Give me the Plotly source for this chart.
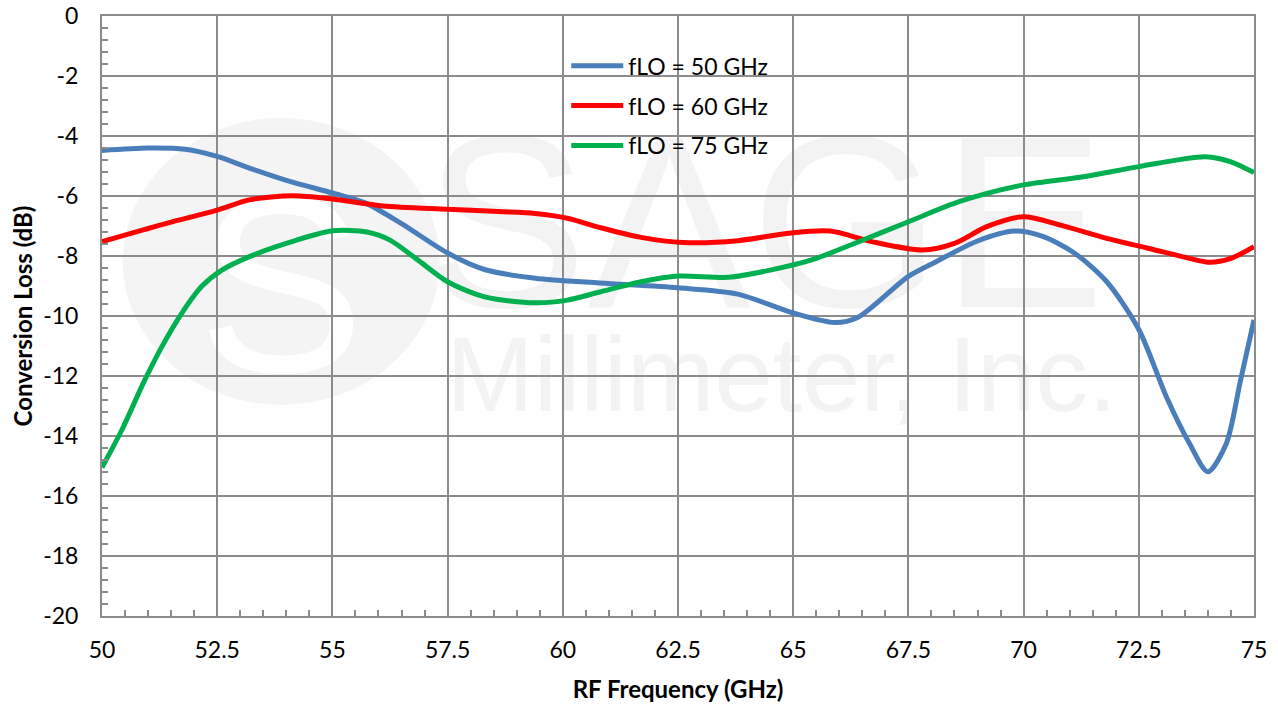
import plotly.graph_objects as go

# ---- data ----
blue_x = [50.0, 51.0, 51.8, 52.5, 53.2, 54.0, 55.0, 55.7, 56.5, 57.5, 58.3, 59.4, 60.8,
          62.5, 63.8, 65.0, 65.9, 66.4, 67.5, 68.1, 69.0, 69.8, 70.4, 71.1, 71.8, 72.5,
          73.1, 73.6, 74.0, 74.4, 74.7, 75.0]
blue_y = [-4.48, -4.40, -4.44, -4.68, -5.07, -5.48, -5.90, -6.22, -6.92, -7.90, -8.45, -8.74, -8.90,
          -9.06, -9.27, -9.90, -10.22, -10.05, -8.68, -8.19, -7.50, -7.17, -7.34, -7.90, -8.85, -10.45,
          -12.7, -14.25, -15.19, -14.25, -12.2, -10.13]

red_x = [50.0, 51.4, 52.5, 53.2, 54.15, 55.0, 56.1, 57.5, 58.6, 59.4, 60.1, 60.8, 61.7, 62.6,
         63.8, 64.9, 65.8, 66.7, 67.8, 68.5, 69.2, 70.0, 70.8, 71.8, 72.7, 73.6, 74.05, 74.5, 75.0]
red_y = [-7.52, -6.91, -6.47, -6.13, -5.99, -6.10, -6.33, -6.44, -6.52, -6.58, -6.74, -7.05, -7.38, -7.55,
         -7.49, -7.24, -7.17, -7.52, -7.80, -7.58, -7.02, -6.69, -6.97, -7.41, -7.74, -8.08, -8.21, -8.08, -7.69]

green_x = [50.0, 50.43, 50.93, 51.3, 51.73, 52.16, 52.6, 53.2, 54.0, 55.0, 55.75, 56.25, 56.85,
           57.5, 58.3, 59.4, 60.1, 60.8, 61.7, 62.5, 63.6, 64.5, 65.4, 66.3, 67.5, 68.6, 70.0,
           71.3, 72.5, 73.95, 74.5, 75.0]
green_y = [-15.05, -13.8, -12.13, -11.02, -9.91, -9.02, -8.47, -8.02, -7.58, -7.16, -7.2, -7.47, -8.13,
           -8.86, -9.36, -9.56, -9.47, -9.2, -8.86, -8.67, -8.71, -8.47, -8.13, -7.6, -6.86, -6.19, -5.63,
           -5.36, -5.02, -4.69, -4.86, -5.22]

series_names = ["fLO = 50 GHz", "fLO = 60 GHz", "fLO = 75 GHz"]
series_colors = ["#4a7ebb", "#ff0000", "#00b050"]

x_ticks = [50, 52.5, 55, 57.5, 60, 62.5, 65, 67.5, 70, 72.5, 75]
x_labels = ["50", "52.5", "55", "57.5", "60", "62.5", "65", "67.5", "70", "72.5", "75"]
y_ticks = [0, -2, -4, -6, -8, -10, -12, -14, -16, -18, -20]
y_labels = ["0", "-2", "-4", "-6", "-8", "-10", "-12", "-14", "-16", "-18", "-20"]

FONT = "Lato, Carlito, Calibri, 'Open Sans', sans-serif"
GRID = "#8c8c8c"

fig = go.Figure()
for i, (xs, ys) in enumerate([(blue_x, blue_y), (red_x, red_y), (green_x, green_y)]):
    fig.add_trace(go.Scatter(
        x=xs, y=ys, mode="lines", name=series_names[i],
        line=dict(color=series_colors[i], width=5, shape="spline", smoothing=0.8),
        legendgroup=f"g{i}",
    ))

# watermark (below grid)
fig.add_shape(type="circle", xref="paper", yref="paper", x0=0.018, x1=0.293, y0=0.352, y1=0.83,
              fillcolor="#f4f4f4", line=dict(width=0), layer="below",
              label=dict(text="S", font=dict(size=250, color="white", family="Liberation Sans")))
fig.add_shape(type="rect", xref="paper", yref="paper", x0=0.3, x1=0.85, y0=0.6, y1=0.79,
              fillcolor="rgba(0,0,0,0)", line=dict(width=0), layer="below",
              label=dict(text="SAGE", font=dict(size=245, color="#f3f3f3", family="Liberation Sans"),
                         textposition="middle center"))
fig.add_shape(type="rect", xref="paper", yref="paper", x0=0.3, x1=0.88, y0=0.36, y1=0.48,
              fillcolor="rgba(0,0,0,0)", line=dict(width=0), layer="below",
              label=dict(text="Millimeter, Inc.", font=dict(size=105, color="#f3f3f3", family="Liberation Sans"),
                         textposition="middle center"))

axis_common = dict(
    showline=True, linecolor=GRID, linewidth=2, mirror=True,
    showgrid=True, gridcolor=GRID, gridwidth=2,
    zeroline=False, ticks="inside", ticklen=6, tickcolor=GRID, tickwidth=1.5,
    tickfont=dict(family=FONT, size=23, color="black"),
    automargin=False, ticklabeloverflow="allow",
)

fig.update_xaxes(
    range=[50, 75], tickvals=x_ticks, ticktext=x_labels,
    minor=dict(dtick=0.5, ticks="inside", ticklen=6, tickcolor=GRID, tickwidth=1.5, showgrid=False),
    title=dict(text="<b>RF Frequency (GHz)</b>", font=dict(family=FONT, size=24, color="black"), standoff=20),
    ticklabelstandoff=12,
    **axis_common,
)
fig.update_yaxes(
    range=[-20, 0], tickvals=y_ticks, ticktext=y_labels,
    minor=dict(dtick=0.4, ticks="inside", ticklen=6, tickcolor=GRID, tickwidth=1.5, showgrid=False),
    title=dict(text="<b>Conversion Loss (dB)</b>", font=dict(family=FONT, size=24, color="black"), standoff=4),
    ticklabelstandoff=17,
    **axis_common,
)

fig.update_layout(
    width=1278, height=707,
    margin=dict(l=102, r=24, t=16, b=91),
    paper_bgcolor="white", plot_bgcolor="white",
    font=dict(family=FONT, color="black"),
    legend=dict(x=0.403, y=0.953, xanchor="left", yanchor="top",
                bgcolor="rgba(0,0,0,0)", font=dict(family=FONT, size=23, color="black"),
                tracegroupgap=7, traceorder="grouped", itemwidth=52),
    showlegend=True,
)

fig.write_html("out.html", config={"displayModeBar": False},
               post_script="document.body.style.margin='0';")
